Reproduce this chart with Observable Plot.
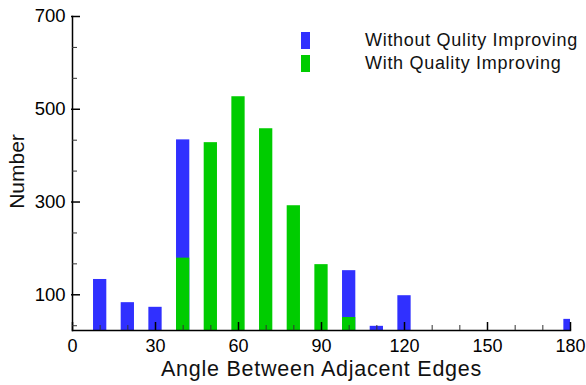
<!DOCTYPE html>
<html>
<head>
<meta charset="utf-8">
<script src="https://cdn.jsdelivr.net/npm/d3@7"></script>
<script src="https://cdn.jsdelivr.net/npm/@observablehq/plot@0.6"></script>
<style>
  html, body { margin: 0; padding: 0; background: #fff; }
  #wrap { position: relative; width: 586px; height: 385px; font-family: "Liberation Sans", Arial, sans-serif; }
  #legend { position: absolute; left: 301px; top: 32px; }
  .item { position: relative; height: 23px; }
  .sw { position: absolute; left: 0; top: 0; width: 9px; height: 17px; }
  .lab { position: absolute; left: 64px; top: -2px; font-size: 18px; letter-spacing: 0.7px; white-space: nowrap; color: #111; line-height: 20px; }
</style>
</head>
<body>
<div id="wrap"></div>
<script>
// ---- data ----
const withoutAngles = [10, 20, 30, 40, 100, 110, 120, 180];
const withoutCounts = [133, 83, 73, 434, 152, 32, 98, 47];
const withAngles = [40, 50, 60, 70, 80, 90, 100];
const withCounts = [179, 428, 527, 458, 292, 165, 51];
const seriesNames = ["Without Qulity Improving", "With Quality Improving"];
const seriesColors = ["#3030ff", "#00cc00"];
const xMajor = [0, 30, 60, 90, 120, 150, 180];
const xMinor = [10, 20, 40, 50, 70, 80, 100, 110, 130, 140, 160, 170];
const yMajor = [100, 300, 500, 700];
const yMinor = [33.3, 166.7, 233.3, 366.7, 433.3, 566.7, 633.3];
const xTitle = "Angle Between Adjacent Edges";
const yTitle = "Number";

// ---- layout ----
const W = 586, H = 385, mL = 72, mR = 16, mT = 16, mB = 55;
const plotW = W - mL - mR, plotH = H - mT - mB;
const halfBar = 2.4;

const blue = withoutAngles.map((a, i) => ({angle: a, count: withoutCounts[i]}));
const green = withAngles.map((a, i) => ({angle: a, count: withCounts[i]}));

const chart = Plot.plot({
  width: W, height: H,
  marginLeft: mL, marginRight: mR, marginTop: mT, marginBottom: mB,
  x: {domain: [0, 180], axis: null},
  y: {domain: [23, 700], axis: null},
  style: {fontFamily: "'Liberation Sans', Arial, sans-serif", fontSize: "18px", color: "black", background: "white"},
  marks: [
    Plot.rectY(blue, {x1: d => d.angle - halfBar, x2: d => d.angle + halfBar, y1: 0, y2: "count", fill: seriesColors[0], clip: true}),
    Plot.rectY(green, {x1: d => d.angle - halfBar, x2: d => d.angle + halfBar, y1: 0, y2: "count", fill: seriesColors[1], clip: true}),
    Plot.frame({anchor: "bottom", stroke: "black", strokeWidth: 1.5}),
    Plot.frame({anchor: "left", stroke: "black", strokeWidth: 1.5}),
    Plot.ruleX(xMajor, {x: d => d, insetTop: plotH - 8, stroke: "black", strokeWidth: 1.5}),
    Plot.ruleX(xMinor, {x: d => d, insetTop: plotH - 5, stroke: "#333", strokeWidth: 1}),
    Plot.ruleY(yMajor, {y: d => d, insetRight: plotW - 8, insetLeft: -1, stroke: "black", strokeWidth: 1.5}),
    Plot.ruleY(yMinor, {y: d => d, insetRight: plotW - 5, stroke: "#333", strokeWidth: 1}),
    Plot.text(xMajor, {x: d => d, frameAnchor: "bottom", dy: 8.5, lineAnchor: "top", text: d => String(d), fontSize: 18, fill: "black"}),
    Plot.text(yMajor, {y: d => d, frameAnchor: "left", dx: -7, textAnchor: "end", lineAnchor: "middle", text: d => String(d), fontSize: 18.5, fill: "black"}),
    Plot.text([xTitle], {frameAnchor: "bottom", dy: 38.5, lineAnchor: "middle", text: d => d, fontSize: 21.5, fill: "#111"}),
    Plot.text([yTitle], {frameAnchor: "left", dx: -55, dy: -2, rotate: -90, textAnchor: "middle", lineAnchor: "middle", text: d => d, fontSize: 21, fill: "#111"})
  ]
});

const wrap = document.getElementById("wrap");
wrap.appendChild(chart);
chart.querySelectorAll("text").forEach(t => { if (t.textContent === xTitle) t.setAttribute("letter-spacing", "0.75"); });

const legend = document.createElement("div");
legend.id = "legend";
seriesNames.forEach((name, i) => {
  const item = document.createElement("div");
  item.className = "item";
  item.innerHTML = `<div class="sw" style="background:${seriesColors[i]}"></div><div class="lab">${name}</div>`;
  legend.appendChild(item);
});
wrap.appendChild(legend);
</script>
</body>
</html>
